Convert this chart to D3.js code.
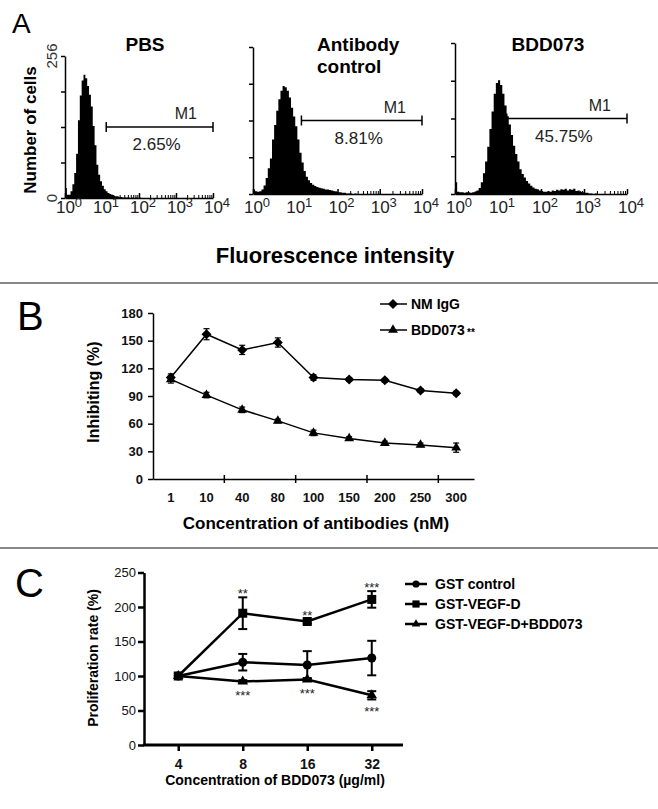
<!DOCTYPE html>
<html>
<head>
<meta charset="utf-8">
<script src="https://cdn.jsdelivr.net/npm/d3@7"></script>
<style>
  body { margin: 0; background: #fff; }
  text { font-family: "Liberation Sans", Arial, sans-serif; }
</style>
</head>
<body>
<svg id="fig"></svg>
<script>
// ---- panel A : flow cytometry histograms (counts per 0.05-decade bin, from 10^0) ----
var binStep = 0.05
var pbsCounts = [18,6,6,12,25,45,80,140,185,212,222,216,202,186,165,130,95,60,42,30,
                 22,16,12,9,7,6,4,3,3,2,2,1,1,1,1,0,1,0,1,0,1]
var abCounts = [8,5,4,5,8,15,28,45,62,95,120,145,165,180,188,186,180,168,150,135,
                118,95,72,55,40,30,24,19,16,14,12,11,10,9,8,8,7,6,5,4,
                3,3,2,2,1,1,1,0,1]
var bddCounts = [20,4,3,3,2,3,3,2,3,4,6,10,20,35,55,80,110,140,170,188,
                 193,185,170,150,132,118,100,82,68,55,42,34,28,22,18,14,11,9,8,6,
                 5,4,4,5,4,6,5,7,6,8,7,9,6,8,7,9,5,6,4,3,
                 2,2,1,1,0,1]
var histTitles = [["PBS"], ["Antibody", "control"], ["BDD073"]]
var gatePercent = ["2.65%", "8.81%", "45.75%"]
var gateStart = [13, 14, 16]
var gateEnd = 10000
var gateLevel = 128
var countTicks = [0, 64, 128, 192, 256]
var decades = [1, 10, 100, 1000, 10000]

// ---- panel B : inhibition ----
var concLabels = ["1", "10", "40", "80", "100", "150", "200", "250", "300"]
var nmIgG = [110, 157, 140, 148, 110, 108, 107, 96, 93]
var nmIgGErr = [4, 6, 5, 5, 3, 2, 2, 2, 2]
var bdd073 = [108, 91, 75, 63, 50, 44, 39, 37, 34]
var bdd073Err = [4, 3, 3, 2, 3, 2, 2, 2, 5]
var inhibTicks = [0, 30, 60, 90, 120, 150, 180]

// ---- panel C : proliferation ----
var doseLabels = ["4", "8", "16", "32"]
var gstControl = [100, 120, 116, 126]
var gstControlErr = [0, 12, 20, 25]
var gstVegf = [100, 191, 179, 211]
var gstVegfErr = [0, 23, 3, 12]
var gstVegfBdd = [100, 92, 95, 72]
var gstVegfBddErr = [0, 2, 2, 6]
var vegfStars = ["", "**", "**", "***"]
var vegfBddStars = ["", "***", "***", "***"]
var prolTicks = [0, 50, 100, 150, 200, 250]

var W = 658, H = 809
var svg = d3.select("#fig").attr("width", W).attr("height", H)
svg.append("rect").attr("width", W).attr("height", H).attr("fill", "#fff")

// separators
svg.selectAll(".sep").data([283, 548]).enter().append("line")
  .attr("x1", 0).attr("x2", W).attr("y1", d => d).attr("y2", d => d)
  .attr("stroke", "#888").attr("stroke-width", 2)

// panel letters
svg.append("text").attr("x", 12).attr("y", 33).attr("font-size", 28).text("A")
svg.append("text").attr("x", 17).attr("y", 330).attr("font-size", 40).text("B")
svg.append("text").attr("x", 15).attr("y", 597).attr("font-size", 40).text("C")

// ================= PANEL A =================
var histLayout = [
  {left: 65, right: 213, top: 56, bottom: 198, titleX: 145, anchor: "middle", counts: pbsCounts},
  {left: 253, right: 422, top: 47, bottom: 194, titleX: 317, anchor: "start", counts: abCounts},
  {left: 455, right: 627, top: 43, bottom: 194, titleX: 548, anchor: "middle", counts: bddCounts}
]

histLayout.forEach(function(p, k) {
  var x = d3.scaleLog().domain([1, 1e4]).range([p.left, p.right])
  var y = d3.scaleLinear().domain([0, 256]).range([p.bottom, p.top])
  var g = svg.append("g")

  var pts = p.counts.map(function(c, i) { return [Math.pow(10, i * binStep), c] })
  pts.push([Math.pow(10, p.counts.length * binStep), 0])
  var area = d3.area().curve(d3.curveStepAfter)
    .x(function(d) { return x(d[0]) })
    .y0(y(0))
    .y1(function(d) { return y(d[1]) })
  g.append("path").attr("d", area(pts)).attr("fill", "#000")

  // y axis
  var ya = g.append("g").attr("transform", "translate(" + p.left + ",0)")
    .call(d3.axisLeft(y).tickValues(countTicks).tickSize(4).tickSizeOuter(0).tickFormat(""))
  ya.selectAll("path,line").attr("stroke-width", 1.5)

  // x axis: majors + minors, ticks pointing up
  var minors = []
  decades.slice(0, 4).forEach(function(d) { for (var m = 2; m < 10; m++) minors.push(d * m) })
  var xa = g.append("g").attr("transform", "translate(0," + p.bottom + ")")
    .call(d3.axisBottom(x).tickValues(decades).tickSizeInner(-5).tickSizeOuter(0).tickFormat(""))
  xa.selectAll("path,line").attr("stroke-width", 1.5)
  g.append("g").attr("transform", "translate(0," + p.bottom + ")")
    .call(d3.axisBottom(x).tickValues(minors).tickSizeInner(-3).tickSizeOuter(0).tickFormat(""))
    .select(".domain").remove()

  // decade labels 10^n
  decades.forEach(function(d, i) {
    var t = g.append("text").attr("x", x(d) + 4).attr("y", 213)
      .attr("text-anchor", "middle").attr("font-size", 17).attr("fill", "#222")
    t.append("tspan").text("10")
    t.append("tspan").attr("dy", -6).attr("font-size", 13).text(i)
  })

  // title
  histTitles[k].forEach(function(line, j) {
    g.append("text").attr("x", p.titleX).attr("y", 51 + j * 22)
      .attr("text-anchor", p.anchor).attr("font-size", 19).attr("font-weight", "bold")
      .text(line)
  })

  // M1 gate
  var gy = y(gateLevel), gx0 = x(gateStart[k]), gx1 = x(gateEnd)
  g.append("line").attr("x1", gx0).attr("x2", gx1).attr("y1", gy).attr("y2", gy)
    .attr("stroke", "#000").attr("stroke-width", 1.5)
  ;[gx0, gx1].forEach(function(xx) {
    g.append("line").attr("x1", xx).attr("x2", xx).attr("y1", gy - 5).attr("y2", gy + 5)
      .attr("stroke", "#000").attr("stroke-width", 1.5)
  })
  g.append("text").attr("x", gx1 - 16).attr("y", gy - 8).attr("text-anchor", "end")
    .attr("font-size", 16).attr("fill", "#222").text("M1")
  g.append("text").attr("x", (gx0 + gx1) / 2 - 3).attr("y", gy + 23).attr("text-anchor", "middle")
    .attr("font-size", 17).attr("fill", "#222").text(gatePercent[k])

  if (k === 0) {
    ;[[256, "256"], [0, "0"]].forEach(function(d) {
      g.append("text").attr("transform", "translate(52," + y(d[0]) + ") rotate(-90)")
        .attr("text-anchor", "middle").attr("dy", "0.35em")
        .attr("font-size", 15).attr("fill", "#333").text(d[1])
    })
  }
})

svg.append("text").attr("transform", "translate(30,130) rotate(-90)")
  .attr("text-anchor", "middle").attr("dy", "0.35em")
  .attr("font-size", 17).attr("font-weight", "bold").text("Number of cells")
svg.append("text").attr("x", 335).attr("y", 263).attr("text-anchor", "middle")
  .attr("font-size", 22).attr("font-weight", "bold").text("Fluorescence intensity")

// ================= PANEL B =================
var bx = d3.scaleBand().domain(concLabels).range([153, 474])
var by = d3.scaleLinear().domain([0, 180]).range([479, 313])
var bc = function(d) { return bx(d) + bx.bandwidth() / 2 }
var gB = svg.append("g")

var yaB = gB.append("g").attr("transform", "translate(153,0)")
  .call(d3.axisLeft(by).tickValues(inhibTicks).tickSize(5).tickSizeOuter(0).tickPadding(5))
yaB.selectAll("path,line").attr("stroke-width", 1.5)
yaB.selectAll("text").attr("font-size", 13).attr("font-weight", "bold").attr("fill", "#111")
  .style("font-family", "'Liberation Sans', Arial, sans-serif")

var xaB = gB.append("g").attr("transform", "translate(0,479)")
  .call(d3.axisBottom(bx).tickSize(0).tickPadding(14))
xaB.select(".domain").attr("stroke-width", 1.5)
xaB.selectAll("text").attr("font-size", 13).attr("font-weight", "bold").attr("fill", "#111")
  .style("font-family", "'Liberation Sans', Arial, sans-serif")
;[2, 4, 6, 8].forEach(function(i) {
  gB.append("line").attr("x1", bx(concLabels[i])).attr("x2", bx(concLabels[i]))
    .attr("y1", 475).attr("y2", 483).attr("stroke", "#000").attr("stroke-width", 1.5)
})

var diamond = d3.symbol().type(d3.symbolSquare).size(50)
var triB = d3.symbol().type(d3.symbolTriangle).size(42)

function drawSeriesB(vals, errs, sym, rot) {
  var line = d3.line().x(function(d, i) { return bc(concLabels[i]) }).y(function(d) { return by(d) })
  gB.append("path").attr("d", line(vals)).attr("fill", "none").attr("stroke", "#000").attr("stroke-width", 1.5)
  vals.forEach(function(v, i) {
    var cx = bc(concLabels[i])
    var e = errs[i]
    gB.append("line").attr("x1", cx).attr("x2", cx).attr("y1", by(v - e)).attr("y2", by(v + e))
      .attr("stroke", "#000").attr("stroke-width", 1.5)
    ;[v - e, v + e].forEach(function(ev) {
      gB.append("line").attr("x1", cx - 3).attr("x2", cx + 3).attr("y1", by(ev)).attr("y2", by(ev))
        .attr("stroke", "#000").attr("stroke-width", 1.2)
    })
    gB.append("path").attr("d", sym()).attr("fill", "#000")
      .attr("transform", "translate(" + cx + "," + by(v) + ") rotate(" + rot + ")")
  })
}
drawSeriesB(nmIgG, nmIgGErr, diamond, 45)
drawSeriesB(bdd073, bdd073Err, triB, 0)

// legend B
;[["NM IgG", diamond, 45, 304], ["BDD073", triB, 0, 330]].forEach(function(d) {
  gB.append("line").attr("x1", 380).attr("x2", 407).attr("y1", d[3]).attr("y2", d[3])
    .attr("stroke", "#000").attr("stroke-width", 1.5)
  gB.append("path").attr("d", d[1]()).attr("fill", "#000")
    .attr("transform", "translate(393," + d[3] + ") rotate(" + d[2] + ")")
  gB.append("text").attr("x", 411).attr("y", d[3] + 5).attr("font-size", 14)
    .attr("font-weight", "bold").text(d[0])
})
gB.append("text").attr("x", 467).attr("y", 336).attr("font-size", 10)
  .attr("font-weight", "bold").text("**")

gB.append("text").attr("transform", "translate(93,392) rotate(-90)")
  .attr("text-anchor", "middle").attr("dy", "0.35em")
  .attr("font-size", 16).attr("font-weight", "bold").text("Inhibiting (%)")
gB.append("text").attr("x", 316).attr("y", 529).attr("text-anchor", "middle")
  .attr("font-size", 17).attr("font-weight", "bold").text("Concentration of antibodies (nM)")

// ================= PANEL C =================
var cx = d3.scalePoint().domain(doseLabels).range([146, 404]).padding(0.5)
var cy = d3.scaleLinear().domain([0, 250]).range([745, 572.5])
var gC = svg.append("g")

var yaC = gC.append("g").attr("transform", "translate(144,0)")
  .call(d3.axisLeft(cy).tickValues(prolTicks).tickSize(6).tickSizeOuter(0).tickPadding(2))
yaC.selectAll("path,line").attr("stroke-width", 2.5)
yaC.selectAll("text").attr("font-size", 13).attr("fill", "#111")
  .style("font-family", "'Liberation Sans', Arial, sans-serif")

var xaC = gC.append("g").attr("transform", "translate(0,745)")
  .call(d3.axisBottom(cx).tickSize(6).tickSizeOuter(0).tickPadding(8))
xaC.select(".domain").remove()
xaC.selectAll("line").attr("stroke-width", 2.5)
xaC.selectAll("text").attr("font-size", 14).attr("font-weight", "bold").attr("fill", "#111")
  .style("font-family", "'Liberation Sans', Arial, sans-serif")
gC.append("line").attr("x1", 143).attr("x2", 403).attr("y1", 745).attr("y2", 745)
  .attr("stroke", "#000").attr("stroke-width", 3)

var circC = d3.symbol().type(d3.symbolCircle).size(64)
var sqC = d3.symbol().type(d3.symbolSquare).size(81)
var triC = d3.symbol().type(d3.symbolTriangle).size(48)

function drawSeriesC(vals, errs, sym) {
  var line = d3.line().x(function(d, i) { return cx(doseLabels[i]) }).y(function(d) { return cy(d) })
  gC.append("path").attr("d", line(vals)).attr("fill", "none").attr("stroke", "#000").attr("stroke-width", 2.5)
  vals.forEach(function(v, i) {
    var px = cx(doseLabels[i]), e = errs[i]
    if (e > 0) {
      gC.append("line").attr("x1", px).attr("x2", px).attr("y1", cy(v - e)).attr("y2", cy(v + e))
        .attr("stroke", "#000").attr("stroke-width", 2)
      ;[v - e, v + e].forEach(function(ev) {
        gC.append("line").attr("x1", px - 4.5).attr("x2", px + 4.5).attr("y1", cy(ev)).attr("y2", cy(ev))
          .attr("stroke", "#000").attr("stroke-width", 2)
      })
    }
    gC.append("path").attr("d", sym()).attr("fill", "#000")
      .attr("transform", "translate(" + px + "," + cy(v) + ")")
  })
}
drawSeriesC(gstControl, gstControlErr, circC)
drawSeriesC(gstVegf, gstVegfErr, sqC)
drawSeriesC(gstVegfBdd, gstVegfBddErr, triC)

// significance stars
vegfStars.forEach(function(s, i) {
  if (!s) return
  gC.append("text").attr("x", cx(doseLabels[i])).attr("y", cy(gstVegf[i] + gstVegfErr[i]) - 6 + 7)
    .attr("text-anchor", "middle").attr("font-size", 13).attr("fill", "#222").text(s)
})
vegfBddStars.forEach(function(s, i) {
  if (!s) return
  gC.append("text").attr("x", cx(doseLabels[i])).attr("y", cy(gstVegfBdd[i] - gstVegfBddErr[i]) + 10 + 7)
    .attr("text-anchor", "middle").attr("font-size", 13).attr("fill", "#222").text(s)
})

// legend C
;[["GST control", circC, 584], ["GST-VEGF-D", sqC, 604], ["GST-VEGF-D+BDD073", triC, 624]].forEach(function(d) {
  gC.append("line").attr("x1", 405).attr("x2", 427).attr("y1", d[2]).attr("y2", d[2])
    .attr("stroke", "#000").attr("stroke-width", 2.5)
  gC.append("path").attr("d", d[1]()).attr("fill", "#000")
    .attr("transform", "translate(416," + d[2] + ") scale(0.8)")
  gC.append("text").attr("x", 435).attr("y", d[2] + 5).attr("font-size", 14)
    .attr("font-weight", "bold").text(d[0])
})

gC.append("text").attr("transform", "translate(93,658) rotate(-90)")
  .attr("text-anchor", "middle").attr("dy", "0.35em")
  .attr("font-size", 14).attr("font-weight", "bold").text("Proliferation rate (%)")
gC.append("text").attr("x", 275).attr("y", 785).attr("text-anchor", "middle")
  .attr("font-size", 14).attr("font-weight", "bold").text("Concentration of BDD073 (\u00b5g/ml)")
</script>
</body>
</html>
